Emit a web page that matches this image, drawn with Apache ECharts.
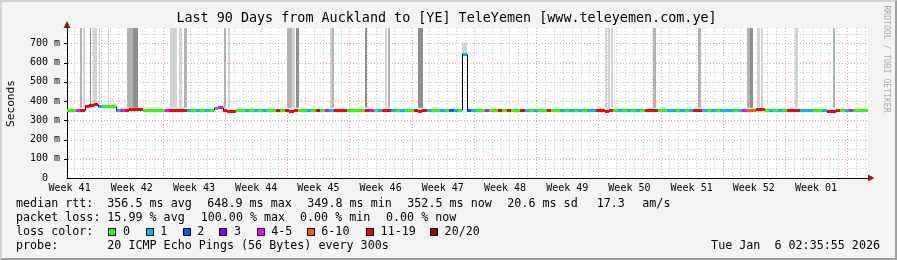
<!DOCTYPE html>
<html><head><meta charset="utf-8">
<script src="https://cdn.jsdelivr.net/npm/echarts@6/dist/echarts.min.js"></script>
<style>
html,body{margin:0;padding:0;background:#f3f3f3;}
#wrap{position:relative;width:897px;height:260px;overflow:hidden;}
#chart{width:897px;height:260px;}
#frame{position:absolute;left:0;top:0;width:897px;height:260px;box-sizing:border-box;border-top:2px solid #d2d2d2;border-left:2px solid #d2d2d2;border-bottom:2px solid #a0a0a0;border-right:2px solid #a0a0a0;pointer-events:none;}
</style></head><body>
<div id="wrap"><div id="chart"></div><div id="frame"></div></div>
<script>
// ---------- data ----------
const weekLabels = ['Week 41','Week 42','Week 43','Week 44','Week 45','Week 46','Week 47','Week 48','Week 49','Week 50','Week 51','Week 52','Week 01'];
const yTickValues = [0,100,200,300,400,500,600,700];
const spanDays = 90.14;        // visible time span, days
const firstMondayDay = 3.79;   // first week boundary, days after start
const stepDays = 0.5;          // consolidation step of the median series

const medianMs = [
355,355,355,356,372,380,383,377,376,376, 376,356,355,356,357,359,357,355,355,355,
355,355,355,354,352,353,355,353,352,353, 354,352,353,366,367,352,351,351,354,356,
353,354,352,354,353,352,354,352,353,352, 351,352,354,353,352,354,352,354,353,354,
352,352,353,354,355,353,354,353,352,354, 353,352,353,352,354,353,354,353,352,351,
352,356,354,354,353,354,352,354,355,645, 352,353,354,354,353,354,353,352,354,353,
354,355,354,353,354,352,354,355,352,354, 353,354,352,353,354,352,353,352,353,354,
352,351,352,354,353,354,353,354,352,354, 353,352,353,354,353,356,353,354,352,353,
354,352,352,353,352,353,354,352,353,352, 353,352,353,354,355,358,357,353,354,353,
352,353,352,352,353,354,353,352,353,354, 352,351,351,352,353,352,353,354,353,353
];
// loss class index: 0:"0" 1:"1" 2:"2" 3:"3" 4:"4-5" 5:"6-10" 6:"11-19" 7:"20/20"
const lossClass = [
0,0,4,6,6,6,6,1,0,0, 0,1,4,6,6,6,6,0,0,0,
0,0,4,6,6,6,6,1,0,1, 0,1,0,1,4,6,6,6,0,0,
1,0,1,0,1,0,0,6,0,6, 6,6,0,0,1,0,6,0,4,1,
6,6,6,0,0,0,0,6,4,0, 1,6,6,1,0,1,0,0,6,6,
6,1,0,0,1,0,2,1,0,1, 2,1,0,0,4,0,0,6,0,6,
0,0,6,1,0,1,0,0,6,0, 0,1,0,1,0,1,0,1,1,6,
6,6,6,0,1,0,1,0,1,0, 6,6,6,0,0,1,1,0,1,0,
1,6,6,1,0,1,0,1,1,1, 0,1,4,5,5,6,6,0,1,0,
1,0,6,6,6,1,1,1,0,0, 1,6,6,6,0,1,4,0,0,0
];
const lossNames  = ['0','1','2','3','4-5','6-10','11-19','20/20'];
const lossColors = ['#26ff00','#00b8ff','#0059ff','#7e00ff','#ff00ff','#ff5500','#ff0000','#a00000'];

// gray smoke / loss bars
const smokeDay   = [1.46,1.80,2.59,2.93,3.60,4.61,6.75,7.43,7.65,11.59,12.60,13.17,17.67,18.10,24.76,25.32,25.77,29.60,29.82,33.54,35.79,36.12,39.50,44.50,60.55,60.88,61.22,65.95,71.01,76.53,76.87,77.65,78.10,81.93,86.20];
const smokeSpan  = [0.22,0.22,0.15,0.45,0.12,0.12,0.68,0.22,0.34,0.79,0.34,0.34,0.22,0.22,0.56,0.34,0.34,0.22,0.22,0.22,0.22,0.22,0.56,0.50,0.22,0.22,0.22,0.34,0.34,0.34,0.34,0.34,0.22,0.34,0.22];
const smokeLow   = [365,365,365,365,365,365,365,365,365,365,365,365,365,365,365,365,365,365,365,365,365,365,365,650,365,365,365,365,365,365,365,365,365,365,365];
const smokeHigh  = [780,780,780,780,780,780,780,780,780,780,780,780,780,780,780,780,780,780,780,780,780,780,780,705,780,780,780,780,780,780,780,780,780,780,780];
const smokeShade = [2,1,3,1,1,1,2,3,3,1,1,2,2,1,2,1,3,1,2,3,1,2,3,1,1,1,1,2,2,2,3,1,1,1,2];
const shadeColors = ['#ffffff','#d2d2d2','#b2b2b2','#8e8e8e'];

// ---------- chart ----------
const FONT = '"DejaVu Sans Mono", monospace';
const Y_MAX = 780;
const chart = echarts.init(document.getElementById('chart'), null, {renderer:'canvas'});

const medianData = medianMs.map((v,i)=>[i*stepDays, v, lossClass[i], i>0?medianMs[i-1]:v, i===medianMs.length-1?1:0]);
const smokeData = smokeDay.map((d,i)=>[d, smokeSpan[i], smokeLow[i], smokeHigh[i], smokeShade[i]]);
const weekData = weekLabels.map((w,i)=>[firstMondayDay - 3.5 + 7*i, i]);

function crisp(v){ return Math.round(v) + 0.5; }

const option = {
  backgroundColor: '#f3f3f3',
  animation: false,
  grid: {left:67, top:28, width:801, height:150, backgroundColor:'#ffffff', show:true, borderWidth:0},
  xAxis: {type:'value', min:0, max:spanDays,
    axisLine:{show:true, lineStyle:{color:'#000', width:1}},
    axisTick:{show:false}, axisLabel:{show:false}, splitLine:{show:false}},
  yAxis: {type:'value', min:0, max:Y_MAX, interval:100,
    axisLine:{show:true, lineStyle:{color:'#000', width:1}},
    axisTick:{show:false}, splitLine:{show:false},
    axisLabel:{margin:7, fontFamily:FONT, fontSize:10, color:'#000',
      formatter:(v)=> v===0 ? '  0  ' : (v%100===0 && v<=700 ? v+' m' : '')}},
  series: [
    { // grid lines
      type:'custom', z:1, silent:true, data:[[0]],
      renderItem:(params, api)=>{
        const ch=[];
        const top = api.coord([0, Y_MAX])[1], bot = api.coord([0,0])[1];
        const left = api.coord([0,0])[0], right = api.coord([spanDays,0])[0];
        for (let k=0;;k++){
          const d = firstMondayDay - 3 + k;
          if (d > spanDays) break;
          if (d < 0) continue;
          const x = crisp(api.coord([d,0])[0]);
          const major = ((k-3)%7===0);
          ch.push({type:'line', shape:{x1:x,y1:top,x2:x,y2:bot-1},
            style:{stroke: major?'rgba(255,0,0,0.42)':'rgba(140,140,140,0.45)', lineWidth:1, lineDash:[1,2]}});
        }
        for (let v=50; v<Y_MAX; v+=50){
          const y = crisp(api.coord([0,v])[1]);
          const major = (v%100===0);
          ch.push({type:'line', shape:{x1:left+1,y1:y,x2:right,y2:y},
            style:{stroke: major?'rgba(255,0,0,0.42)':'rgba(140,140,140,0.45)', lineWidth:1, lineDash:[1,2]}});
          if (major) ch.push({type:'line', shape:{x1:left-3,y1:y,x2:left,y2:y}, style:{stroke:'#000', lineWidth:1}});
        }
        return {type:'group', children:ch};
      }
    },
    { // smoke / loss bars
      type:'custom', z:2, silent:true, data:smokeData,
      renderItem:(params, api)=>{
        const d=api.value(0), w=api.value(1), lo=api.value(2), hi=Math.min(api.value(3), Y_MAX), s=api.value(4);
        const p0=api.coord([d, hi]), p1=api.coord([d+w, lo]);
        return {type:'rect', shape:{x:Math.round(p0[0]), y:p0[1], width:Math.max(1,Math.round(p1[0])-Math.round(p0[0])), height:p1[1]-p0[1]},
          style:{fill:shadeColors[s]}};
      }
    },
    { // median rtt coloured by loss
      type:'custom', z:3, silent:true, data:medianData,
      renderItem:(params, api)=>{
        const d=api.value(0), v=api.value(1), c=api.value(2), pv=api.value(3), last=api.value(4);
        const d1 = last ? spanDays : d+stepDays;
        const p0=api.coord([d, v]), p1=api.coord([d1, v]);
        const y=Math.round(p0[1])+0.5;
        const ch=[{type:'line', shape:{x1:Math.round(p0[0]),y1:y,x2:Math.round(p1[0]),y2:y},
          style:{stroke:lossColors[c], lineWidth:3, lineCap:'butt'}}];
        if (Math.abs(v-pv) > 4){
          const py=Math.round(api.coord([d,pv])[1])+0.5;
          const x=crisp(p0[0]);
          ch.push({type:'line', shape:{x1:x,y1:py,x2:x,y2:y}, style:{stroke:'#000', lineWidth:1}});
        }
        return {type:'group', children:ch};
      }
    },
    { // week labels
      type:'custom', z:4, silent:true, data:weekData,
      renderItem:(params, api)=>{
        const p=api.coord([api.value(0), 0]);
        return {type:'text', x:p[0], y:p[1]+10,
          style:{text:weekLabels[api.value(1)], fontFamily:FONT, fontSize:10, fill:'#000', align:'center', verticalAlign:'middle'}};
      }
    }
  ],
  graphic: []
};

const G = [];
function txt(x,y,text,size,opts){ G.push(Object.assign({type:'text', x:x, y:y, silent:true,
  style:Object.assign({text:text, fontFamily:FONT, fontSize:size, fill:'#000', align:'left', verticalAlign:'middle'}, (opts&&opts.style)||{})},
  opts&&opts.rotation!==undefined?{rotation:opts.rotation}:{})); }

txt(446.5, 19, 'Last 90 Days from Auckland to [YE] TeleYemen [www.teleyemen.com.ye]', 13.4, {style:{align:'center'}});
txt(11, 103.5, 'Seconds', 11.2, {style:{align:'center'}, rotation:Math.PI/2});
txt(886, 59, 'RRDTOOL / TOBI OETIKER', 8.1, {style:{align:'center', fill:'#ababab'}, rotation:-Math.PI/2});

const LF = 11.7;
const r1=204, r2=218.3, r3=232.3, r4=246.2;
txt(16, r1, 'median rtt:', LF);
txt(107.3, r1, '356.5 ms avg', LF);
txt(207.3, r1, '648.9 ms max', LF);
txt(307.3, r1, '349.8 ms min', LF);
txt(407.3, r1, '352.5 ms now', LF);
txt(507.3, r1, '20.6 ms sd', LF);
txt(596.7, r1, '17.3', LF);
txt(642.3, r1, 'am/s', LF);
txt(16, r2, 'packet loss:', LF);
txt(107.3, r2, '15.99 % avg', LF);
txt(200.7, r2, '100.00 % max', LF);
txt(300, r2, '0.00 % min', LF);
txt(386, r2, '0.00 % now', LF);
txt(16, r3, 'loss color:', LF);
const boxX = [108.3,145.7,182.7,219.3,256.7,306.7,366,430];
lossNames.forEach((n,i)=>{
  G.push({type:'rect', silent:true, shape:{x:Math.round(boxX[i])+0.5, y:228.5, width:7, height:7}, style:{fill:lossColors[i], stroke:'#000', lineWidth:1}});
  txt(boxX[i]+14.6, r3, n, LF);
});
txt(16, r4, 'probe:', LF);
txt(107.3, r4, '20 ICMP Echo Pings (56 Bytes) every 300s', LF);
txt(880, r4, 'Tue Jan  6 02:35:55 2026', LF, {style:{align:'right'}});

// axis arrows
G.push({type:'polygon', silent:true, shape:{points:[[63.5,28],[70.5,28],[67,21]]}, style:{fill:'#8a1c1c'}});
G.push({type:'polygon', silent:true, shape:{points:[[868,174.5],[868,181.5],[874.5,178]]}, style:{fill:'#8a1c1c'}});

option.graphic = G;
chart.setOption(option);
</script>
</body></html>
